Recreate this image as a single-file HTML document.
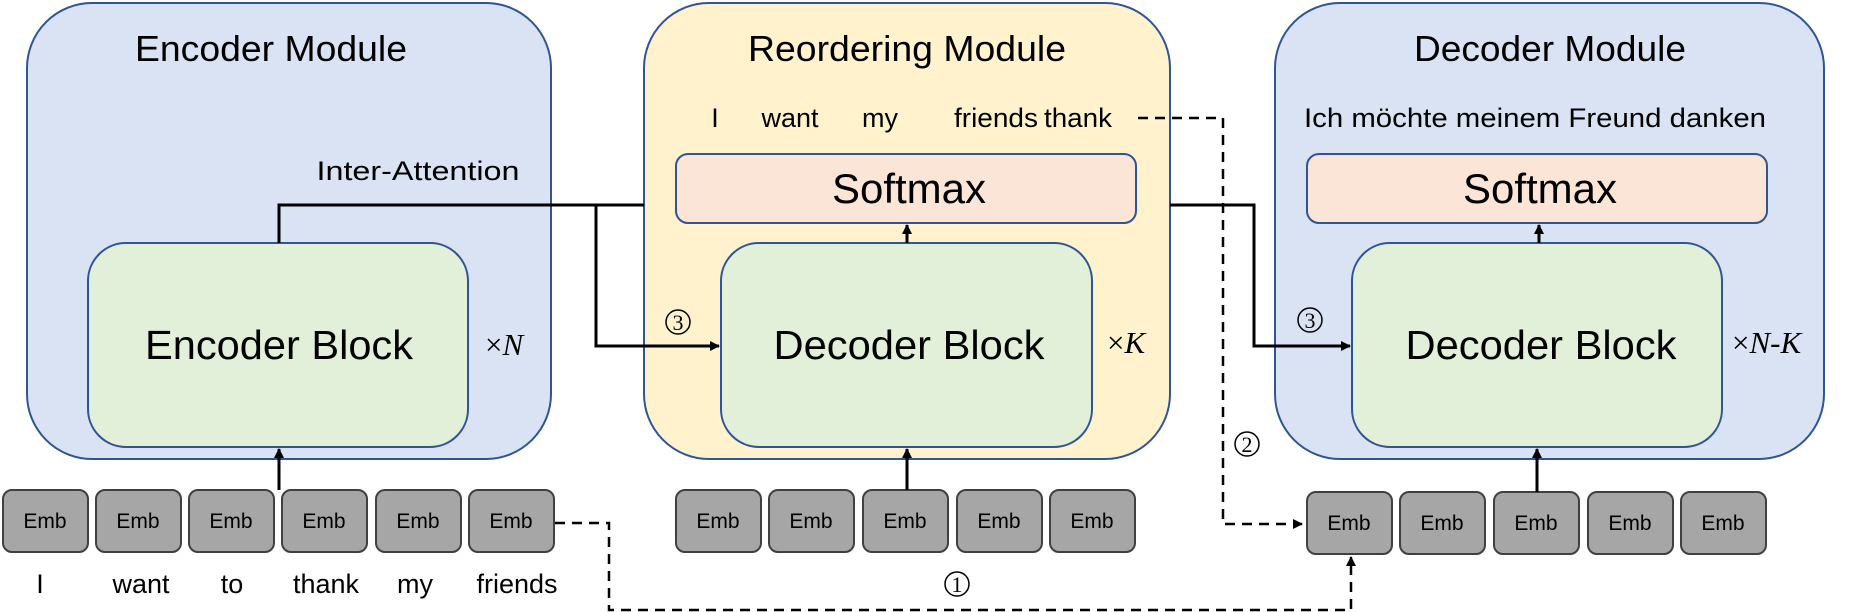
<!DOCTYPE html>
<html><head><meta charset="utf-8"><style>html,body{margin:0;padding:0;background:#fff}svg{display:block}</style></head>
<body>
<svg width="1868" height="612" viewBox="0 0 1868 612" xmlns="http://www.w3.org/2000/svg" font-family="Liberation Sans, sans-serif">
<defs>
<marker id="ah" markerWidth="10" markerHeight="10" refX="9" refY="5" orient="auto" markerUnits="userSpaceOnUse">
<path d="M0,0 L10,5 L0,10 z" fill="#000"/></marker>
</defs>
<rect x="27" y="3" width="524" height="456" rx="65" fill="#dae3f3" stroke="#2f5597" stroke-width="2"/>
<rect x="644" y="3" width="526" height="456" rx="65" fill="#fff2cc" stroke="#2f5597" stroke-width="2"/>
<rect x="1275" y="3" width="549" height="456" rx="65" fill="#dae3f3" stroke="#2f5597" stroke-width="2"/>
<g font-size="36" text-anchor="middle" fill="#000">
<text x="271" y="61" textLength="272" lengthAdjust="spacingAndGlyphs">Encoder Module</text>
<text x="907" y="61" textLength="318" lengthAdjust="spacingAndGlyphs">Reordering Module</text>
<text x="1550" y="61" textLength="272" lengthAdjust="spacingAndGlyphs">Decoder Module</text>
</g>
<rect x="88" y="243" width="380" height="204" rx="38" fill="#e2f0d9" stroke="#2f5597" stroke-width="2"/>
<rect x="721" y="243" width="371" height="204" rx="38" fill="#e2f0d9" stroke="#2f5597" stroke-width="2"/>
<rect x="1352" y="243" width="370" height="204" rx="38" fill="#e2f0d9" stroke="#2f5597" stroke-width="2"/>
<rect x="676" y="154" width="460" height="69" rx="12" fill="#fbe5d6" stroke="#2f5597" stroke-width="2"/>
<rect x="1307" y="154" width="460" height="69" rx="12" fill="#fbe5d6" stroke="#2f5597" stroke-width="2"/>
<g font-size="41" text-anchor="middle">
<text x="279" y="359" textLength="268" lengthAdjust="spacingAndGlyphs">Encoder Block</text>
<text x="909" y="359" textLength="271" lengthAdjust="spacingAndGlyphs">Decoder Block</text>
<text x="1541" y="359" textLength="271" lengthAdjust="spacingAndGlyphs">Decoder Block</text>
</g>
<g font-size="42" text-anchor="middle">
<text x="909" y="203" textLength="154" lengthAdjust="spacingAndGlyphs">Softmax</text>
<text x="1540" y="203" textLength="154" lengthAdjust="spacingAndGlyphs">Softmax</text>
</g>
<g font-size="31" font-family="Liberation Serif, serif" font-style="italic">
<text x="485" y="355"><tspan font-style="normal">×</tspan>N</text>
<text x="1107" y="353"><tspan font-style="normal">×</tspan>K</text>
<text x="1732" y="353"><tspan font-style="normal">×</tspan>N-K</text>
</g>
<g font-size="27">
<text x="418" y="180" text-anchor="middle" textLength="203" lengthAdjust="spacingAndGlyphs">Inter-Attention</text>
<text x="715" y="127" text-anchor="middle">I</text>
<text x="790" y="127" text-anchor="middle">want</text>
<text x="880" y="127" text-anchor="middle">my</text>
<text x="996" y="127" text-anchor="middle" textLength="84" lengthAdjust="spacingAndGlyphs">friends</text>
<text x="1078" y="127" text-anchor="middle" textLength="68" lengthAdjust="spacingAndGlyphs">thank</text>
<text x="1535" y="127" text-anchor="middle" textLength="462" lengthAdjust="spacingAndGlyphs">Ich  möchte meinem Freund danken</text>
<text x="40" y="593" text-anchor="middle">I</text>
<text x="141" y="593" text-anchor="middle">want</text>
<text x="232" y="593" text-anchor="middle">to</text>
<text x="326" y="593" text-anchor="middle">thank</text>
<text x="415" y="593" text-anchor="middle">my</text>
<text x="517" y="593" text-anchor="middle">friends</text>
</g>
<g fill="#a6a6a6" stroke="#404040" stroke-width="2">
<rect x="3" y="490" width="85" height="62" rx="9"/><rect x="96" y="490" width="85" height="62" rx="9"/><rect x="189" y="490" width="85" height="62" rx="9"/><rect x="282" y="490" width="85" height="62" rx="9"/><rect x="376" y="490" width="85" height="62" rx="9"/><rect x="469" y="490" width="85" height="62" rx="9"/>
<rect x="676" y="490" width="85" height="62" rx="9"/><rect x="769" y="490" width="85" height="62" rx="9"/><rect x="863" y="490" width="85" height="62" rx="9"/><rect x="957" y="490" width="85" height="62" rx="9"/><rect x="1050" y="490" width="85" height="62" rx="9"/>
<rect x="1307" y="492" width="85" height="62" rx="9"/><rect x="1400" y="492" width="85" height="62" rx="9"/><rect x="1494" y="492" width="85" height="62" rx="9"/><rect x="1588" y="492" width="85" height="62" rx="9"/><rect x="1681" y="492" width="85" height="62" rx="9"/>
</g>
<g font-size="21" text-anchor="middle">
<text x="45" y="528">Emb</text><text x="138" y="528">Emb</text><text x="231" y="528">Emb</text><text x="324" y="528">Emb</text><text x="418" y="528">Emb</text><text x="511" y="528">Emb</text>
<text x="718" y="528">Emb</text><text x="811" y="528">Emb</text><text x="905" y="528">Emb</text><text x="999" y="528">Emb</text><text x="1092" y="528">Emb</text>
<text x="1349" y="530">Emb</text><text x="1442" y="530">Emb</text><text x="1536" y="530">Emb</text><text x="1630" y="530">Emb</text><text x="1723" y="530">Emb</text>
</g>
<g stroke="#000" stroke-width="3" fill="none">
<polyline points="279,243 279,205 644,205"/>
<polyline points="596,205 596,346 719,346" marker-end="url(#ah)"/>
<polyline points="1170,205 1254,205 1254,346 1350,346" marker-end="url(#ah)"/>
<line x1="279" y1="490" x2="279" y2="449" marker-end="url(#ah)"/>
<line x1="907" y1="490" x2="907" y2="449" marker-end="url(#ah)"/>
<line x1="1537" y1="492" x2="1537" y2="449" marker-end="url(#ah)"/>
<line x1="907" y1="243" x2="907" y2="225" marker-end="url(#ah)"/>
<line x1="1539" y1="243" x2="1539" y2="225" marker-end="url(#ah)"/>
</g>
<g stroke="#000" stroke-width="2.5" fill="none" stroke-dasharray="10,7">
<polyline points="1138,118 1223,118 1223,524 1302,524" marker-end="url(#ah)"/>
<polyline points="555,523 609,523 609,610 1351,610 1351,557" marker-end="url(#ah)"/>
</g>
<g font-size="22" text-anchor="middle" font-family="Liberation Serif, serif">
<circle cx="678" cy="322" r="12" fill="none" stroke="#000" stroke-width="1.5"/><text x="678" y="330">3</text>
<circle cx="1310" cy="320" r="12" fill="none" stroke="#000" stroke-width="1.5"/><text x="1310" y="328">3</text>
<circle cx="1247" cy="444" r="12" fill="none" stroke="#000" stroke-width="1.5"/><text x="1247" y="452">2</text>
<circle cx="957" cy="584" r="12" fill="none" stroke="#000" stroke-width="1.5"/><text x="957" y="592">1</text>
</g>
</svg>
</body></html>
